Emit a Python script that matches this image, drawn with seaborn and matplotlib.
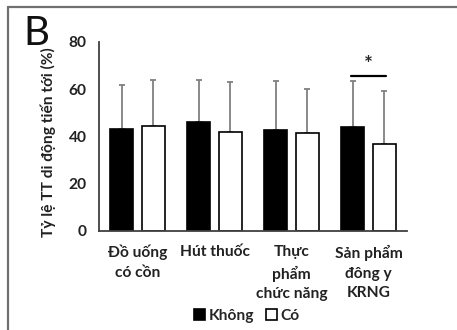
import matplotlib
matplotlib.use("Agg")
import matplotlib.pyplot as plt
from matplotlib.lines import Line2D
import seaborn as sns
import pandas as pd
import numpy as np

categories = ["Đồ uống\ncó cồn", "Hút thuốc", "Thực\nphẩm\nchức năng", "Sản phẩm\nđông y\nKRNG"]
groups = ["Không", "Có"]
khong_mean = [43.2, 46.2, 42.8, 44.0]
co_mean = [44.5, 41.9, 41.5, 36.8]
khong_sd = [18.7, 17.8, 20.7, 19.5]
co_sd = [19.5, 21.1, 18.5, 22.5]
yticks = [0, 20, 40, 60, 80]
sig_level = 65.6

sns.set_theme(style="white")
plt.rcParams["font.family"] = ["Lato", "DejaVu Sans"]

FS = 11.2

df = pd.DataFrame({
    "cat": categories * 2,
    "grp": [groups[0]] * 4 + [groups[1]] * 4,
    "val": khong_mean + co_mean,
})

W, H = 457, 330
fig = plt.figure(figsize=(W / 100, H / 100), dpi=100)
ax = fig.add_axes([99 / W, 1 - 231 / H, (407 - 99) / W, (231 - 42) / H])

sns.barplot(data=df, x="cat", y="val", hue="grp", hue_order=groups,
            palette={"Không": "black", "Có": "white"}, edgecolor="black",
            linewidth=1.2, width=0.83, gap=0.28, errorbar=None, ax=ax,
            legend=True)

sds = [khong_sd, co_sd]
for cont, sd in zip(ax.containers, sds):
    xs = [b.get_x() + b.get_width() / 2 for b in cont]
    ys = [b.get_height() for b in cont]
    ax.errorbar(xs, ys, yerr=[np.zeros(len(sd)), sd], fmt="none",
                ecolor="#808080", elinewidth=1.3, capsize=2.2, capthick=1.3,
                zorder=0.5)

# significance marker for last category
b0 = ax.containers[0][3]
b1 = ax.containers[1][3]
x0 = b0.get_x() + b0.get_width() / 2
x1 = b1.get_x() + b1.get_width() / 2
ax.plot([x0 - 0.02, x1 + 0.02], [sig_level, sig_level], color="black", lw=1.6)
ax.text((x0 + x1) / 2, sig_level + 0.3, "*", ha="center", va="bottom",
        fontsize=15, fontweight="bold")

ax.set_xlim(-0.5, 3.5)
ax.set_ylim(0, 80)
ax.set_yticks(yticks)
ax.set_yticklabels([str(t) for t in yticks])
ax.tick_params(axis="both", length=0, labelsize=FS, colors="#222222")
ax.tick_params(axis="x", pad=10)
ax.tick_params(axis="y", pad=9)
for lab in ax.get_xticklabels():
    lab.set_linespacing(1.5)
    lab.set_fontweight("bold")
for lab in ax.get_yticklabels():
    lab.set_fontweight("bold")
ax.set_xlabel("")
ax.set_ylabel("Tỷ lệ TT di động tiến tới (%)", fontsize=FS, fontweight="bold",
              color="#222222")
ax.yaxis.set_label_coords(-0.14, 0.468)

for s in ["top", "right"]:
    ax.spines[s].set_visible(False)
for s in ["left", "bottom"]:
    ax.spines[s].set_color("#404040")
    ax.spines[s].set_linewidth(1.3)

handles, labels = ax.get_legend_handles_labels()
ax.legend(handles, labels, loc="center", bbox_to_anchor=(247 / W, 1 - 316 / H),
          bbox_transform=fig.transFigure, ncol=2, frameon=False,
          handlelength=0.65, handleheight=0.65, handletextpad=0.25,
          columnspacing=0.8, prop={"size": FS, "weight": "bold"})

fig.text(23 / W, 1 - 15 / H, "B", fontsize=29, va="top", ha="left",
         color="#111111", fontweight="normal")

# outer frame (top and left visible)
fc = "#707070"
fig.add_artist(Line2D([8 / W, 1], [1 - 6.5 / H, 1 - 6.5 / H], color=fc, lw=1.6,
                      transform=fig.transFigure))
fig.add_artist(Line2D([8 / W, 8 / W], [0, 1 - 6.5 / H], color=fc, lw=1.6,
                      transform=fig.transFigure))

fig.savefig("out.png", dpi=100)
